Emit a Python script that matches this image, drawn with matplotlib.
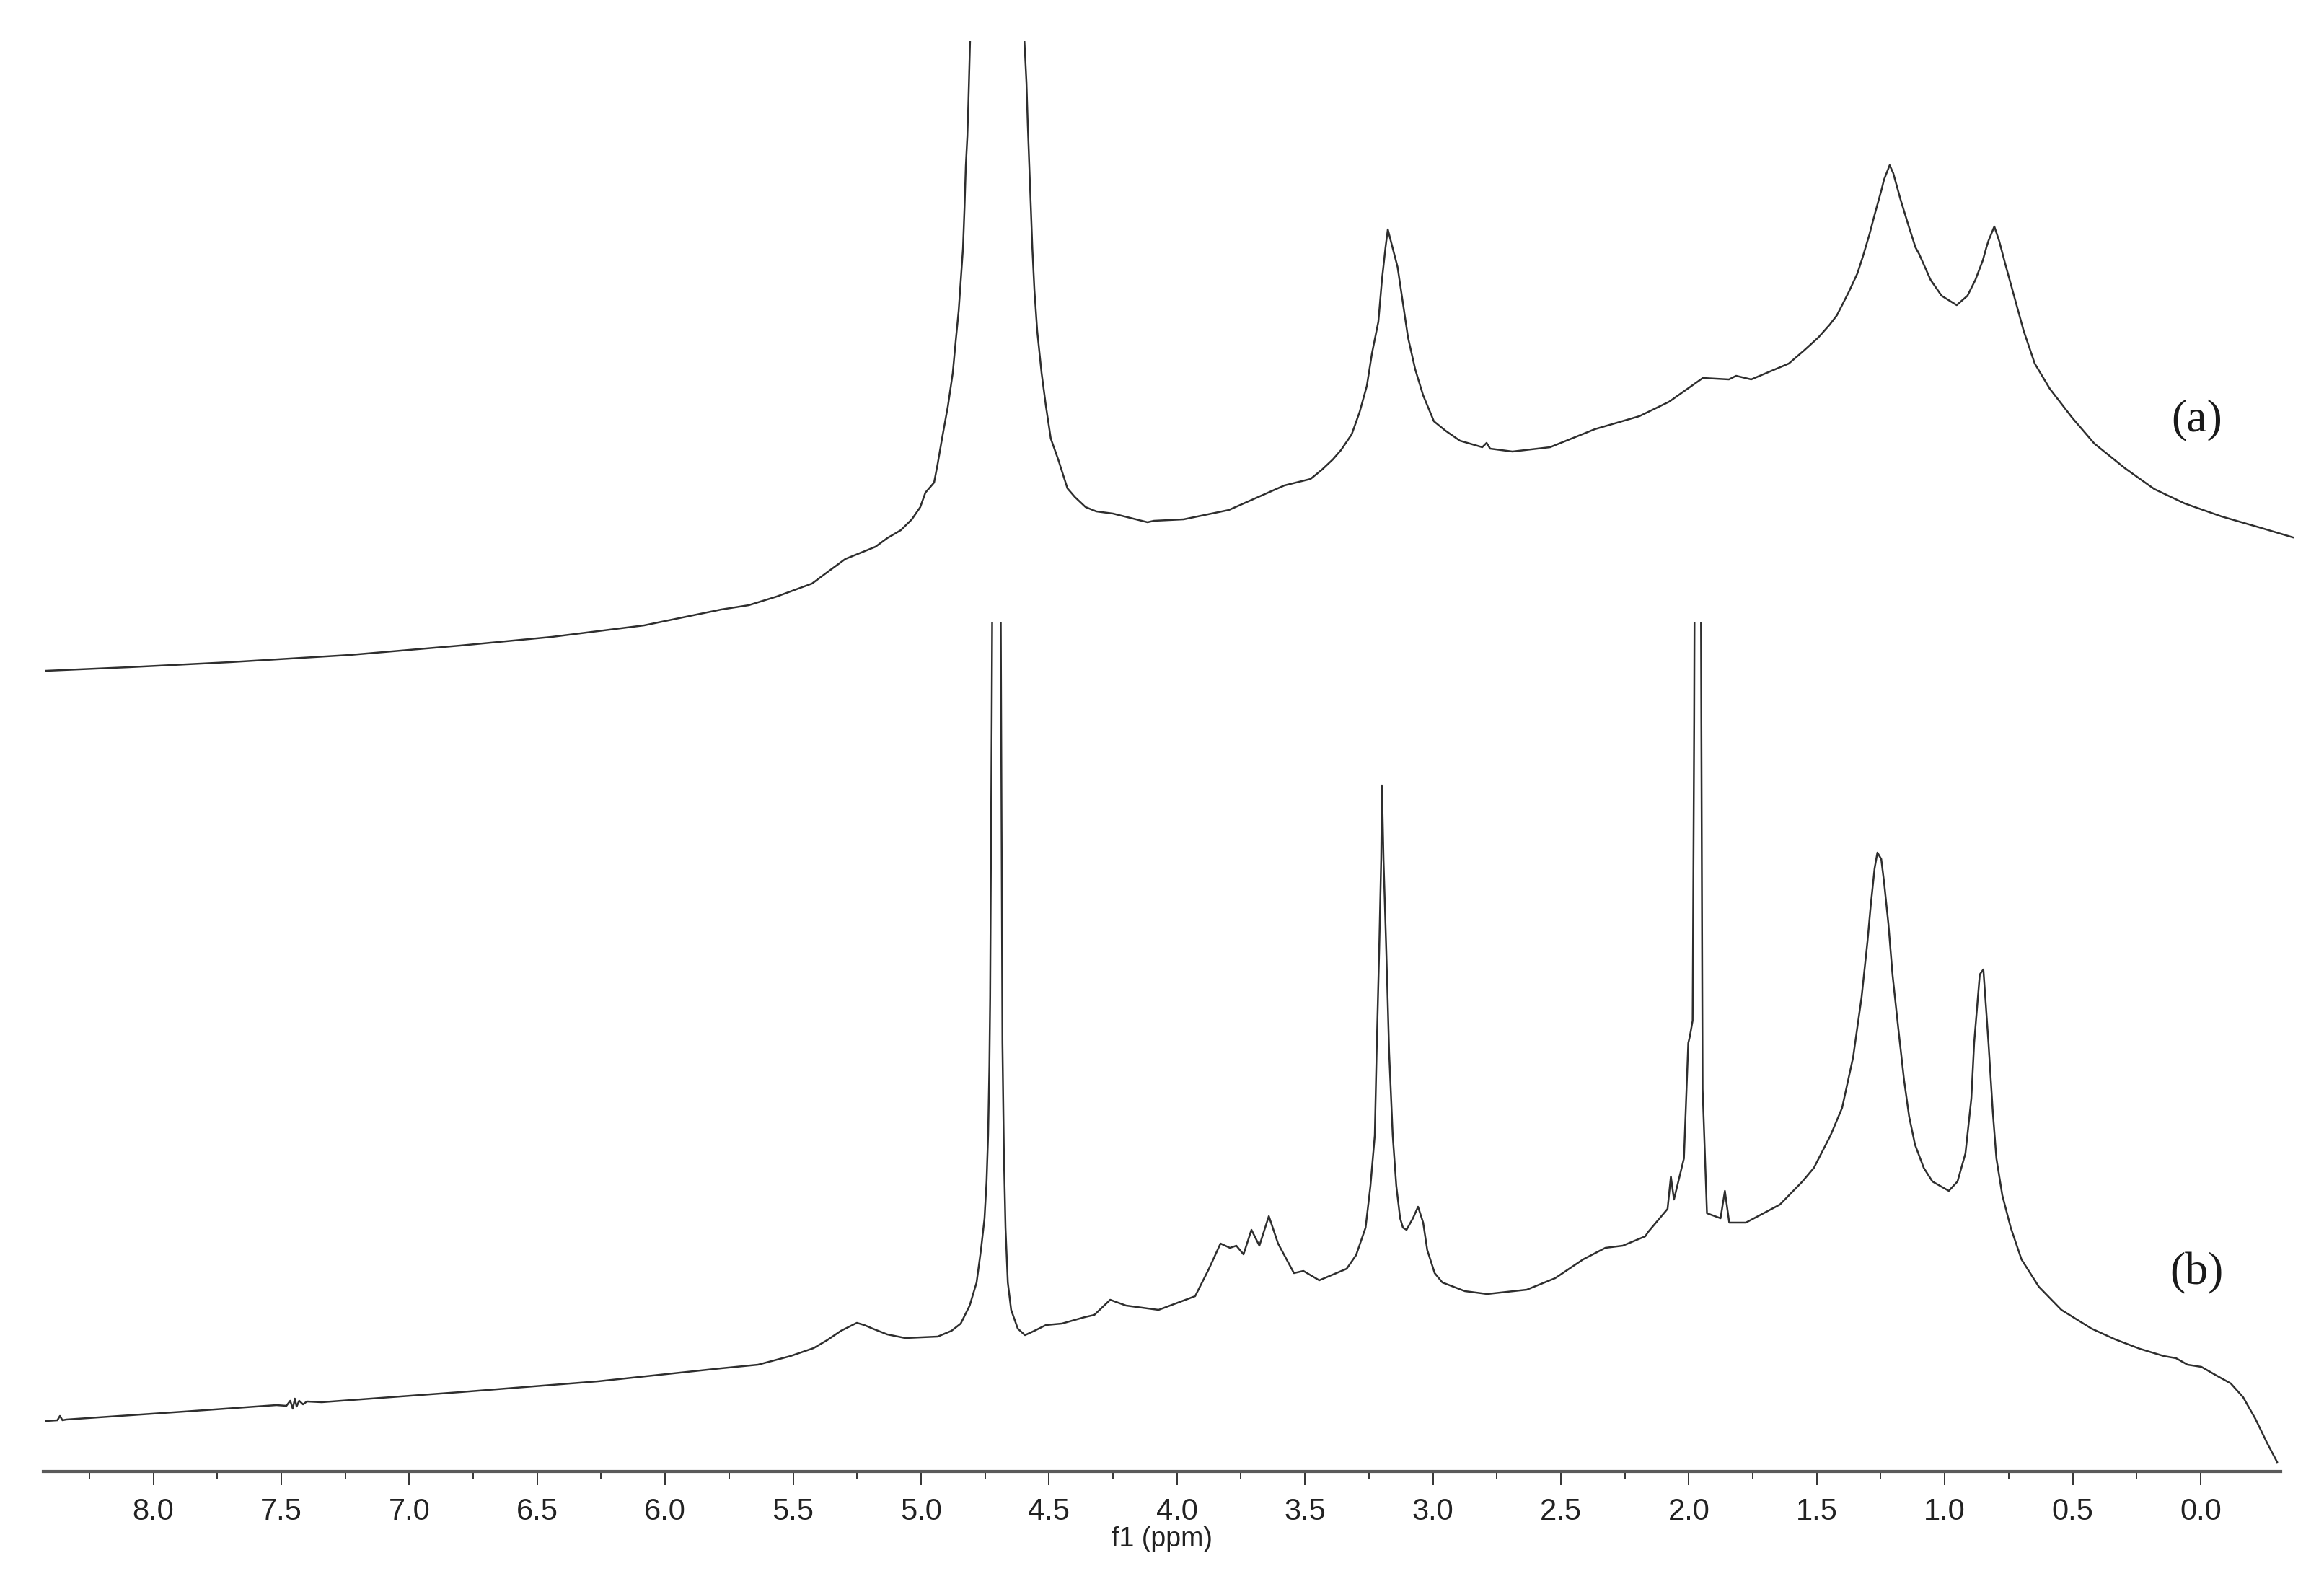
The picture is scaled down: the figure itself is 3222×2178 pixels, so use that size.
import matplotlib.pyplot as plt
import numpy as np

# traced 1H NMR spectra, chemical shift (ppm) and intensity (arb. units)
ppm_a = [8.419, 8.095, 7.700, 7.232, 6.801, 6.443, 6.082, 5.781, 5.673, 5.564,
         5.426, 5.350, 5.296, 5.178, 5.132, 5.079, 5.036, 5.003, 4.983, 4.949,
         4.935, 4.918, 4.895, 4.876, 4.864, 4.853, 4.845, 4.836, 4.830, 4.825,
         4.819, 4.815, 4.808, 4.76, 4.70, 4.64, 4.597, 4.588, 4.583, 4.577,
         4.571, 4.565, 4.557, 4.546, 4.529, 4.512, 4.493, 4.464, 4.428, 4.399,
         4.357, 4.315, 4.250, 4.115, 4.090, 3.974, 3.797, 3.580, 3.478, 3.433,
         3.391, 3.359, 3.317, 3.286, 3.258, 3.238, 3.213, 3.199, 3.185, 3.176,
         3.151, 3.138, 3.112, 3.097, 3.069, 3.038, 2.996, 2.951, 2.894, 2.807,
         2.790, 2.776, 2.689, 2.542, 2.367, 2.193, 2.077, 1.945, 1.843, 1.815,
         1.756, 1.609, 1.550, 1.494, 1.449, 1.421, 1.375, 1.341, 1.320, 1.294,
         1.274, 1.246, 1.237, 1.215, 1.201, 1.187, 1.173, 1.142, 1.114, 1.100,
         1.055, 1.012, 0.953, 0.911, 0.880, 0.851, 0.837, 0.829, 0.806, 0.787,
         0.764, 0.736, 0.691, 0.648, 0.589, 0.502, 0.415, 0.296, 0.181, 0.062,
         -0.082, -0.228, -0.361]
int_a = [1110, 1115, 1122, 1132, 1145, 1157, 1173, 1195, 1201, 1213,
         1231, 1251, 1265, 1282, 1294, 1305, 1320, 1337, 1357, 1371,
         1397, 1432, 1477, 1523, 1569, 1609, 1650, 1696, 1753, 1810,
         1851, 1897, 1990, 2600, 4000, 2600, 1990, 1925, 1868, 1810,
         1753, 1696, 1638, 1581, 1523, 1477, 1432, 1403, 1363, 1351,
         1337, 1331, 1328, 1316, 1318, 1320, 1333, 1367, 1376, 1389,
         1403, 1416, 1438, 1469, 1505, 1550, 1594, 1652, 1697, 1722,
         1688, 1670, 1608, 1572, 1528, 1492, 1456, 1443, 1429, 1420,
         1426, 1418, 1414, 1420, 1445, 1463, 1483, 1516, 1514, 1519,
         1514, 1536, 1554, 1572, 1590, 1603, 1635, 1661, 1684, 1715,
         1742, 1778, 1791, 1811, 1800, 1782, 1764, 1728, 1697, 1688,
         1652, 1630, 1617, 1630, 1652, 1679, 1697, 1706, 1726, 1706,
         1675, 1639, 1581, 1536, 1501, 1461, 1425, 1391, 1362, 1342,
         1324, 1309, 1295]

ppm_b = [8.419, 8.375, 8.365, 8.355, 8.340, 7.880, 7.519, 7.48, 7.465, 7.455,
         7.447, 7.44, 7.43, 7.415, 7.40, 7.342, 6.801, 6.262, 5.781, 5.637,
         5.510, 5.420, 5.367, 5.313, 5.251, 5.222, 5.189, 5.132, 5.062, 4.935,
         4.881, 4.845, 4.810, 4.783, 4.766, 4.752, 4.744, 4.738, 4.733, 4.730,
         4.724, 4.718, 4.705, 4.692, 4.687, 4.682, 4.676, 4.670, 4.661, 4.648,
         4.622, 4.594, 4.557, 4.512, 4.450, 4.360, 4.323, 4.261, 4.199, 4.072,
         3.929, 3.875, 3.830, 3.793, 3.768, 3.740, 3.709, 3.678, 3.641, 3.605,
         3.543, 3.506, 3.444, 3.337, 3.300, 3.263, 3.244, 3.227, 3.219, 3.210,
         3.202, 3.199, 3.193, 3.182, 3.171, 3.157, 3.143, 3.128, 3.117, 3.103,
         3.078, 3.058, 3.038, 3.022, 2.993, 2.963, 2.875, 2.788, 2.633, 2.522,
         2.413, 2.326, 2.258, 2.170, 2.159, 2.083, 2.070, 2.058, 2.019, 2.002,
         1.996, 1.985, 1.979, 1.975, 1.965, 1.955, 1.951, 1.946, 1.929, 1.876,
         1.859, 1.842, 1.777, 1.644, 1.556, 1.511, 1.446, 1.401, 1.358, 1.325,
         1.302, 1.289, 1.274, 1.263, 1.248, 1.237, 1.220, 1.204, 1.181, 1.159,
         1.139, 1.116, 1.082, 1.048, 0.984, 0.950, 0.919, 0.896, 0.885, 0.863,
         0.849, 0.829, 0.812, 0.798, 0.775, 0.742, 0.700, 0.632, 0.544, 0.426,
         0.333, 0.237, 0.144, 0.096, 0.051, -0.003, -0.062, -0.118, -0.166, -0.214,
         -0.259, -0.299]
int_b = [70, 71, 77, 71, 72, 83, 92, 91, 98, 87,
         101, 90, 98, 93, 97, 96, 110, 125, 143, 148,
         160, 171, 182, 195, 206, 203, 198, 190, 185, 187,
         195, 205, 230, 262, 307, 351, 402, 466, 562, 657,
         1040, 1500, 3500, 1500, 1040, 594, 434, 338, 262, 224,
         198, 189, 195, 203, 205, 214, 217, 238, 230, 224,
         243, 281, 316, 310, 313, 301, 335, 313, 354, 316,
         275, 278, 265, 281, 300, 338, 396, 466, 594, 721,
         849, 951, 849, 721, 581, 466, 396, 351, 338, 335,
         351, 367, 345, 307, 275, 262, 250, 246, 252, 268,
         294, 310, 313, 326, 332, 364, 409, 377, 434, 594,
         603, 625, 1040, 1500, 3500, 1500, 1040, 530, 358, 351,
         389, 345, 345, 370, 402, 421, 466, 504, 574, 657,
         734, 785, 836, 858, 849, 817, 759, 689, 613, 543,
         492, 453, 421, 402, 389, 402, 441, 517, 594, 689,
         696, 594, 498, 434, 383, 338, 294, 256, 224, 198,
         183, 170, 160, 157, 148, 145, 133, 122, 103, 73,
         40, 13]

labels = ["(a)", "(b)"]

W, H = 3223, 2178
fig = plt.figure(figsize=(W / 100, H / 100), dpi=100)

x0, x1 = 60 / W, 3162 / W
base = (H - 2040) / H
ax_b = fig.add_axes([x0, base, x1 - x0, (2040 - 863) / H])
# top trace runs a little past the end of the axis line
ax_a = fig.add_axes([x0, base, (3185 - 60) / W, (2040 - 57) / H])
ax_a.patch.set_alpha(0)

line_kw = dict(color="#2e2e2e", lw=1.8)
ax_a.plot(ppm_a, int_a, **line_kw)
ax_b.plot(ppm_b, int_b, **line_kw)

ax_b.set_xlim(8.43, -0.313)
ax_a.set_xlim(8.43, -0.378)
ax_b.set_ylim(0, 2040 - 863)
ax_a.set_ylim(0, 2040 - 57)

for ax in (ax_a, ax_b):
    for s in ["left", "right", "top"]:
        ax.spines[s].set_visible(False)
    ax.set_yticks([])
ax_a.spines["bottom"].set_visible(False)
ax_a.tick_params(axis="x", which="both", bottom=False, labelbottom=False)

ax_b.spines["bottom"].set_color("#5a5a5a")
ax_b.spines["bottom"].set_linewidth(3)
ax_b.set_xticks(np.arange(0, 8.01, 0.5))
ax_b.set_xticks(np.arange(0.25, 8.5, 0.5), minor=True)
ax_b.set_xticklabels([f"{v:.1f}" for v in np.arange(0, 8.01, 0.5)])
ax_b.tick_params(axis="x", which="major", direction="out", length=14, width=1.4,
                 color="#333333", pad=12, labelsize=30, labelcolor="#222222")
ax_b.tick_params(axis="x", which="minor", direction="out", length=7, width=1.4,
                 color="#333333")
for t in ax_b.get_xticklabels():
    t.set_fontfamily("Liberation Sans")
ax_b.set_xlabel("f1 (ppm)", fontsize=27, family="Liberation Sans", color="#222222",
                labelpad=0)

ax_a.text(3046 / W, 1 - 582 / H, labels[0], transform=fig.transFigure, fontsize=46,
          family="Liberation Serif", ha="center", va="center", color="#1a1a1a")
ax_b.text(3045 / W, 1 - 1765 / H, labels[1], transform=fig.transFigure, fontsize=46,
          family="Liberation Serif", ha="center", va="center", color="#1a1a1a")

fig.savefig("out.png", dpi=100)
